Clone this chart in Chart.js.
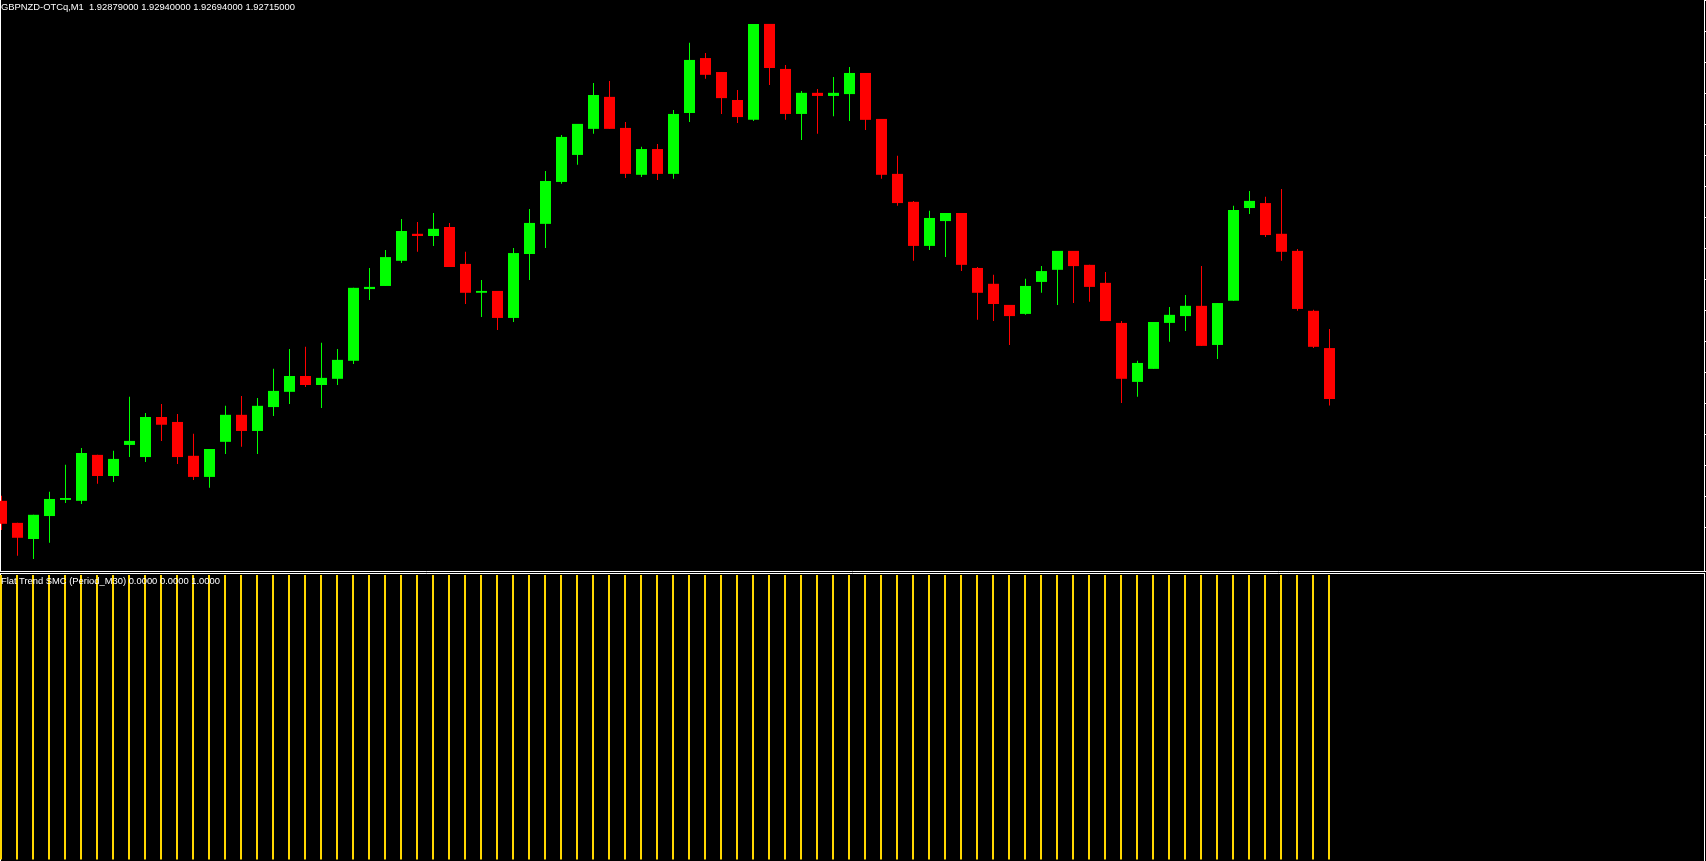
<!DOCTYPE html>
<html>
<head>
<meta charset="utf-8">
<script src="https://cdn.jsdelivr.net/npm/chart.js@4.4.0/dist/chart.umd.min.js"></script>
<style>
html,body{margin:0;padding:0;background:#000;overflow:hidden;width:1706px;height:861px}
#wrap{position:relative;width:1706px;height:861px;background:#000}
canvas{position:absolute;left:0;display:block}
#priceCanvas{top:0}
#flatCanvas{top:572px}
.lbl{position:absolute;color:#fff;font-family:"Liberation Sans",Arial,sans-serif;font-size:9.4px;line-height:1;white-space:pre}
</style>
</head>
<body>
<div id="wrap">
<canvas id="priceCanvas" width="1706" height="572"></canvas>
<canvas id="flatCanvas" width="1706" height="289"></canvas>
<div class="lbl" id="symLbl" style="left:1px;top:2px"></div>
<div class="lbl" id="indLbl" style="left:1px;top:576px"></div>
</div>
<script>
// ---- data (GBPNZD-OTCq, M1) ----
const symbol = "GBPNZD-OTCq";
const timeframe = "M1";
const open = [1.92387,1.92316,1.92264,1.92338,1.92390,1.92387,1.92535,1.92467,1.92567,1.92528,
1.92657,1.92641,1.92532,1.92464,1.92577,1.92664,1.92612,1.92689,1.92738,1.92789,
1.92760,1.92780,1.92838,1.93069,1.93079,1.93160,1.93247,1.93240,1.93269,1.93150,
1.93057,1.93063,1.92976,1.93182,1.93279,1.93414,1.93501,1.93585,1.93688,1.93588,
1.93437,1.93520,1.93440,1.93636,1.93813,1.93768,1.93678,1.93614,1.93923,1.93778,
1.93633,1.93701,1.93691,1.93697,1.93765,1.93617,1.93440,1.93350,1.93208,1.93288,
1.93314,1.93137,1.93086,1.93018,1.92989,1.93092,1.93131,1.93192,1.93147,1.93089,
1.92960,1.92770,1.92812,1.92960,1.92982,1.93015,1.92889,1.93031,1.93330,1.93346,
1.93247,1.93192,1.92999,1.92879];
const high = [1.92403,1.92316,1.92342,1.92416,1.92503,1.92557,1.92535,1.92548,1.92722,1.92670,
1.92699,1.92667,1.92603,1.92554,1.92693,1.92725,1.92718,1.92812,1.92876,1.92883,
1.92896,1.92876,1.93073,1.93137,1.93195,1.93295,1.93285,1.93314,1.93282,1.93189,
1.93098,1.93063,1.93201,1.93327,1.93449,1.93565,1.93601,1.93733,1.93739,1.93607,
1.93527,1.93536,1.93646,1.93862,1.93829,1.93768,1.93710,1.93923,1.93923,1.93791,
1.93707,1.93713,1.93752,1.93784,1.93765,1.93617,1.93498,1.93353,1.93321,1.93314,
1.93314,1.93140,1.93115,1.93018,1.93102,1.93143,1.93192,1.93192,1.93147,1.93124,
1.92966,1.92838,1.92963,1.93011,1.93050,1.93143,1.93024,1.93337,1.93385,1.93366,
1.93391,1.93198,1.93002,1.92940];
const low = [1.92293,1.92210,1.92200,1.92252,1.92380,1.92377,1.92442,1.92448,1.92528,1.92512,
1.92580,1.92506,1.92454,1.92429,1.92538,1.92561,1.92538,1.92660,1.92699,1.92754,
1.92686,1.92760,1.92828,1.93034,1.93079,1.93153,1.93189,1.93208,1.93140,1.93021,
1.92979,1.92937,1.92963,1.93098,1.93201,1.93408,1.93469,1.93569,1.93585,1.93427,
1.93430,1.93420,1.93424,1.93607,1.93746,1.93633,1.93604,1.93610,1.93726,1.93614,
1.93549,1.93569,1.93626,1.93610,1.93581,1.93424,1.93337,1.93160,1.93195,1.93172,
1.93127,1.92970,1.92966,1.92889,1.92986,1.93057,1.93018,1.93024,1.93028,1.92966,
1.92702,1.92722,1.92812,1.92899,1.92934,1.92886,1.92844,1.93031,1.93311,1.93237,
1.93160,1.92999,1.92879,1.92694];
const close = [1.92313,1.92268,1.92342,1.92393,1.92396,1.92541,1.92467,1.92522,1.92580,1.92657,
1.92632,1.92528,1.92464,1.92554,1.92664,1.92612,1.92693,1.92741,1.92789,1.92760,
1.92783,1.92841,1.93073,1.93076,1.93172,1.93256,1.93240,1.93263,1.93140,1.93057,
1.93063,1.92976,1.93185,1.93282,1.93417,1.93559,1.93601,1.93694,1.93585,1.93440,
1.93520,1.93440,1.93633,1.93807,1.93759,1.93684,1.93623,1.93923,1.93781,1.93633,
1.93701,1.93691,1.93701,1.93765,1.93614,1.93437,1.93346,1.93208,1.93298,1.93314,
1.93147,1.93057,1.93021,1.92982,1.93079,1.93127,1.93192,1.93143,1.93076,1.92966,
1.92780,1.92831,1.92963,1.92986,1.93015,1.92886,1.93024,1.93324,1.93353,1.93243,
1.93189,1.93005,1.92883,1.92715];
// Flat Trend SMC (Period_M30) – third buffer (histogram) per bar
const indicatorName = "Flat Trend SMC (Period_M30)";
const flatSignal = [1,1,1,1,1,1,1,1,1,1, 1,1,1,1,1,1,1,1,1,1, 1,1,1,1,1,1,1,1,1,1,
1,1,1,1,1,1,1,1,1,1, 1,1,1,1,1,1,1,1,1,1, 1,1,1,1,1,1,1,1,1,1,
1,1,1,1,1,1,1,1,1,1, 1,1,1,1,1,1,1,1,1,1, 1,1,1,1];
const indicatorLast = [0.0, 0.0, 1.0];
// visible price window of the main pane
const priceMin = 1.92161, priceMax = 1.94000;
const priceStep = 0.001;
// visible bar window (chart shift on the right)
const barMin = -0.09375, barMax = 106.40625;

// ---- build ----
const bars = open.map((_, i) => i);
const colors = bars.map(i => close[i] >= open[i] ? '#00ff00' : '#ff0000');
const last = open.length - 1;
document.getElementById('symLbl').textContent =
  symbol + ',' + timeframe + '  ' + [open[last], high[last], low[last], close[last]].map(v => v.toFixed(8)).join(' ');
document.getElementById('indLbl').textContent =
  indicatorName + ' ' + indicatorLast.map(v => v.toFixed(4)).join(' ');

const hidden = {display:false};
new Chart(document.getElementById('priceCanvas'), {
  type: 'bar',
  data: {
    datasets: [
      {label:'wick', xAxisID:'x', yAxisID:'y', data: bars.map(i => ({x:i, y:[low[i], high[i]]})),
       backgroundColor: colors, barThickness:1, maxBarThickness:1, grouped:false, inflateAmount:0, borderWidth:0, order:2},
      {label:'body', xAxisID:'x', yAxisID:'y', data: bars.map(i => ({x:i, y:[open[i], close[i]]})),
       backgroundColor: colors, barThickness:11, maxBarThickness:11, grouped:false, inflateAmount:0, borderWidth:0, order:1}
    ]
  },
  options: {
    responsive:false, animation:false, devicePixelRatio:1, events:[],
    layout:{padding:{left:0, right:0, top:0, bottom:1}},
    plugins:{legend:hidden, tooltip:{enabled:false}, title:hidden},
    scales:{
      y:{type:'linear', position:'right', min:priceMin, max:priceMax,
         ticks:{display:false, stepSize:priceStep},
         grid:{display:true, drawOnChartArea:false, drawTicks:true, tickLength:2, color:'#ffffff', lineWidth:1},
         border:{display:true, color:'#ffffff', width:1}},
      x:{type:'linear', position:'bottom', offset:false, min:barMin, max:barMax,
         ticks:{display:false}, grid:{display:false, drawTicks:false, offset:false},
         border:{display:true, color:'#ffffff', width:1}},
      yL:{type:'linear', position:'left', ticks:{display:false}, grid:{display:false, drawTicks:false},
         border:{display:true, color:'#ffffff', width:1}, z:1}
    }
  }
});

new Chart(document.getElementById('flatCanvas'), {
  type: 'bar',
  data: {
    datasets: [
      {label:'flat', xAxisID:'x', yAxisID:'y', data: bars.map(i => ({x:i, y:flatSignal[i]})),
       backgroundColor:'#ffd700', barThickness:2, maxBarThickness:2, grouped:false, inflateAmount:0, borderWidth:0}
    ]
  },
  options: {
    responsive:false, animation:false, devicePixelRatio:1, events:[],
    layout:{padding:{left:0, right:0, top:1, bottom:1}},
    plugins:{legend:hidden, tooltip:{enabled:false}, title:hidden},
    scales:{
      y:{type:'linear', position:'right', min:0, max:1.00702,
         ticks:{display:false}, grid:{display:true, drawOnChartArea:false, drawTicks:true, tickLength:2, color:'rgba(0,0,0,0)'},
         border:{display:true, color:'#ffffff', width:1}},
      x:{type:'linear', position:'top', offset:false, min:barMin + 0.03125, max:barMax + 0.03125,
         ticks:{display:false}, grid:{display:false, drawTicks:false, offset:false},
         border:{display:true, color:'#ffffff', width:1}},
      yL:{type:'linear', position:'left', ticks:{display:false}, grid:{display:false, drawTicks:false},
         border:{display:true, color:'#ffffff', width:1}}
    }
  }
});
</script>
</body>
</html>
